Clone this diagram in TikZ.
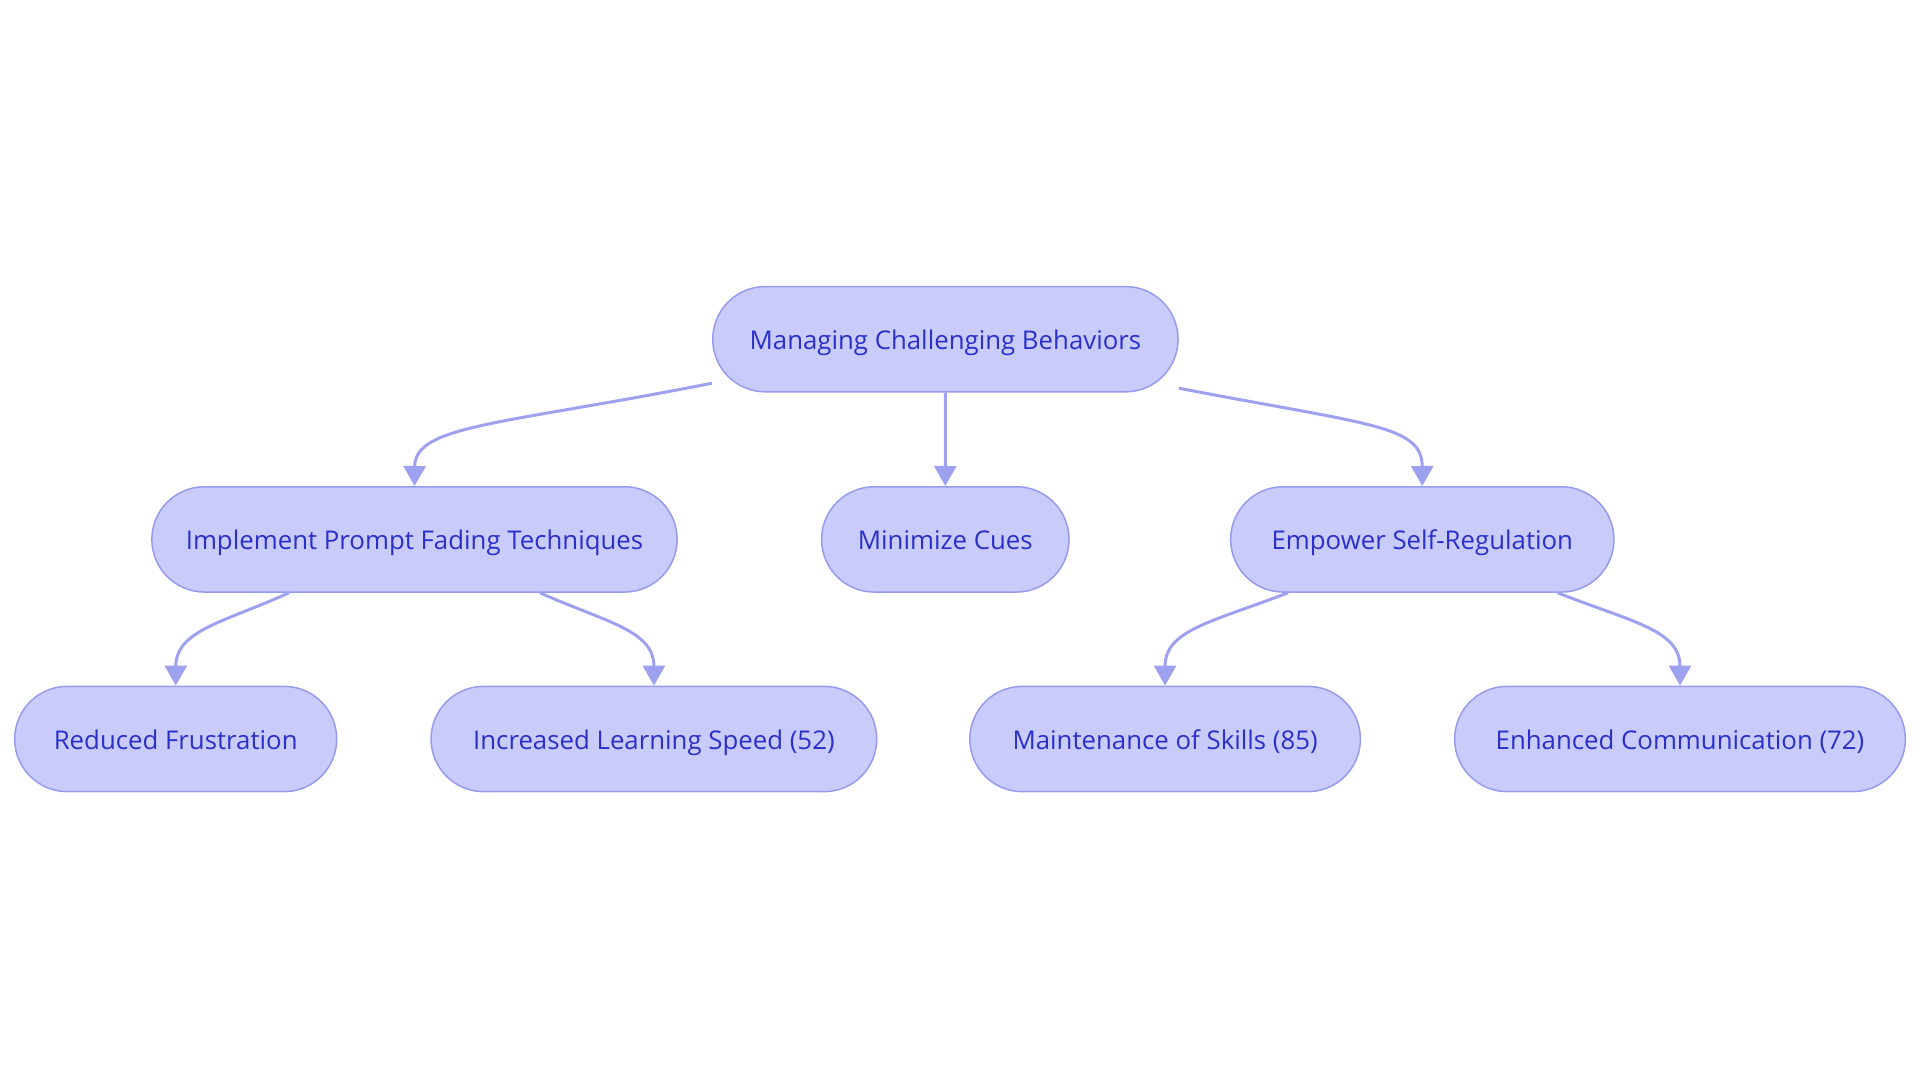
\documentclass[tikz,border=0pt]{standalone}
\usepackage{fontspec}
\setmainfont{Open Sans}
\usetikzlibrary{calc,arrows.meta}
\definecolor{nodefill}{RGB}{201,203,251}
\definecolor{nodeedge}{RGB}{150,155,238}
\definecolor{nodetext}{RGB}{44,48,200}
\definecolor{linkcol}{RGB}{157,161,240}
\tikzset{
  box/.style={draw=nodeedge, fill=nodefill, line width=1.5pt, rounded corners=52.6pt,
    minimum height=105.3pt, inner sep=0pt, text=nodetext,
    text height=22pt, text depth=2pt,
    font=\fontsize{25.8}{30}\selectfont},
  link/.style={draw=linkcol, line width=3pt,
    -{Triangle[length=20pt,width=22pt]}},
}
\begin{document}
\begin{tikzpicture}[x=1pt,y=-1pt]
\useasboundingbox (0,0) rectangle (1920,1083);
\node[box, minimum width=465.3pt] (root) at (945.4,339.2) {Managing Challenging Behaviors};
\node[box, minimum width=525.3pt] (impl) at (414.5,539.4) {Implement Prompt Fading Techniques};
\node[box, minimum width=247.4pt] (mini) at (945.3,539.4) {Minimize Cues};
\node[box, minimum width=383.3pt] (empo) at (1422.3,539.4) {Empower Self-Regulation};
\node[box, minimum width=322pt] (redu) at (175.7,739) {Reduced Frustration};
\node[box, minimum width=445.7pt] (incr) at (653.9,739) {Increased Learning Speed (52)};
\node[box, minimum width=390.6pt] (main) at (1165.1,739) {Maintenance of Skills (85)};
\node[box, minimum width=450.7pt] (enha) at (1680,739) {Enhanced Communication (72)};

\draw[link] ($(root.west)+(0,44)$) .. controls (500,425) and (415,425) .. (impl.north);
\draw[link] (root.south) -- (mini.north);
\draw[link] ($(root.east)+(0,49)$) .. controls (1370,425) and (1422,425) .. (empo.north);
\draw[link] ($(impl.south)+(-125.5,0)$) .. controls (225,622) and (176,630) .. (redu.north);
\draw[link] ($(impl.south)+(125.5,0)$) .. controls (605,622) and (654,630) .. (incr.north);
\draw[link] ($(empo.south)+(-134.3,0)$) .. controls (1212,622) and (1165,630) .. (main.north);
\draw[link] ($(empo.south)+(135.3,0)$) .. controls (1632,622) and (1680,630) .. (enha.north);
\end{tikzpicture}
\end{document}
